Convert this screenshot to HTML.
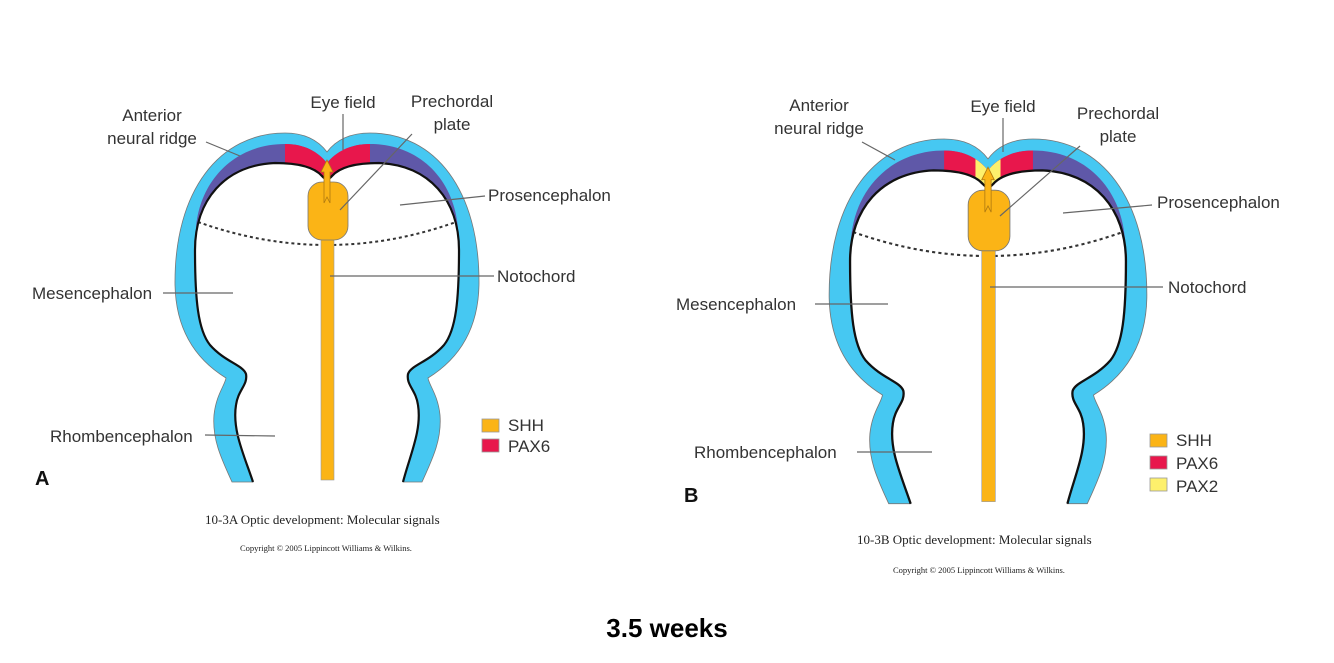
<!DOCTYPE html>
<html><head><meta charset="utf-8"><style>
html,body{margin:0;padding:0;background:#fff;}
svg{display:block;}
text{font-family:"Liberation Sans",sans-serif;fill:#333;}
.lb{font-size:17px;}
.ln{stroke:#666;stroke-width:1.2;fill:none;}
.cap{font-family:"Liberation Serif",serif;fill:#222;}
</style></head><body>
<svg width="1334" height="663" viewBox="0 0 1334 663" xmlns="http://www.w3.org/2000/svg">
<defs>
<path id="band" d="M196,228 C200,180 235,144 285,144 C305,144 318,152 327,163 C336,152 350,144 370,144 C420,144 454,180 458,228 L459,250 C459,200 429,165 379,163 C354,163 339,168 332,176 Q327,182 322,176 C315,168 300,163 275,163 C225,165 195,200 195,250 Z"/>
<g id="dia">
  <path d="M232,482 C222,460 212,440 214,415 C216,395 225,385 226,378 C200,362 176,335 175,285 C174,190 220,133 285,133 C305,133 318,140 327,152 C336,140 350,133 370,133 C435,133 480,190 479,285 C478,335 454,362 428,378 C429,385 438,395 440,415 C442,440 432,460 422,482 L403,482 C410,455 422,430 418,405 C416,390 406,385 408,374 C411,365 429,362 444,345 C456,330 459,300 459,250 C459,200 429,165 379,163 C354,163 339,168 332,176 Q327,182 322,176 C315,168 300,163 275,163 C225,165 195,200 195,250 C195,300 198,330 210,345 C225,362 243,365 246,374 C248,385 238,390 236,405 C232,430 244,455 253,482 Z" fill="#46c8f2" stroke="#777" stroke-width="0.8"/>
  <use href="#band" fill="#5f58a8"/>
  <path d="M198,222 Q327,268 456,222" fill="none" stroke="#333" stroke-width="2" stroke-dasharray="3,3"/>
  <rect x="321" y="236" width="13" height="244" fill="#fbb416" stroke="#999" stroke-width="0.6"/>
  <rect x="308" y="182" width="40" height="58" rx="14" fill="#fbb416" stroke="#777" stroke-width="0.8"/>
</g>
<g id="edge">
  <path d="M253,482 C244,455 232,430 236,405 C238,390 248,385 246,374 C243,365 225,362 210,345 C198,330 195,300 195,250 C195,200 225,165 275,163 C300,163 315,168 322,176 Q327,182 332,176 C339,168 354,163 379,163 C429,165 459,200 459,250 C459,300 456,330 444,345 C429,362 411,365 408,374 C406,385 416,390 418,405 C422,430 410,455 403,482" fill="none" stroke="#111" stroke-width="2.2"/>
  <path d="M327,160 L333,172 L330,172 L330,203 L327,197 L324,203 L324,172 L321,172 Z" fill="#fbb416" stroke="#b07a10" stroke-width="0.8"/>
</g>
<clipPath id="redA"><rect x="285" y="120" width="85" height="70"/></clipPath>
<clipPath id="yel"><rect x="315" y="120" width="24" height="70"/></clipPath>
</defs>

<use href="#dia"/>
<use href="#band" fill="#e8174c" clip-path="url(#redA)"/>
<use href="#edge"/>

<g transform="translate(988,139) scale(1.045) translate(-327,-133)">
  <use href="#dia"/>
  <use href="#band" fill="#e8174c" clip-path="url(#redA)"/>
  <use href="#band" fill="#fdf06c" clip-path="url(#yel)"/>
  <use href="#edge"/>
</g>

<text class="lb" x="152" y="121" text-anchor="middle">Anterior</text>
<text class="lb" x="152" y="144" text-anchor="middle">neural ridge</text>
<path class="ln" d="M206,142 L240,156"/>
<text class="lb" x="343" y="108" text-anchor="middle">Eye field</text>
<path class="ln" d="M343,114 L343,150"/>
<text class="lb" x="452" y="107" text-anchor="middle">Prechordal</text>
<text class="lb" x="452" y="130" text-anchor="middle">plate</text>
<path class="ln" d="M412,134 L340,210"/>
<text class="lb" x="488" y="201">Prosencephalon</text>
<path class="ln" d="M485,196 L400,205"/>
<text class="lb" x="497" y="282">Notochord</text>
<path class="ln" d="M494,276 L330,276"/>
<text class="lb" x="32" y="299">Mesencephalon</text>
<path class="ln" d="M163,293 L233,293"/>
<text class="lb" x="50" y="442">Rhombencephalon</text>
<path class="ln" d="M205,435 L275,436"/>
<text x="35" y="485" style="font-size:20px;font-weight:bold;fill:#111">A</text>
<rect x="482" y="419" width="17" height="13" fill="#fbb416" stroke="#999" stroke-width="0.8"/>
<text class="lb" x="508" y="431">SHH</text>
<rect x="482" y="439" width="17" height="13" fill="#e8174c" stroke="#999" stroke-width="0.8"/>
<text class="lb" x="508" y="452">PAX6</text>
<text class="cap" x="205" y="524" style="font-size:13px">10-3A  Optic development: Molecular signals</text>
<text class="cap" x="240" y="551" style="font-size:8.5px">Copyright © 2005 Lippincott Williams &amp; Wilkins.</text>

<text class="lb" x="819" y="111" text-anchor="middle">Anterior</text>
<text class="lb" x="819" y="134" text-anchor="middle">neural ridge</text>
<path class="ln" d="M862,142 L895,160"/>
<text class="lb" x="1003" y="112" text-anchor="middle">Eye field</text>
<path class="ln" d="M1003,118 L1003,152"/>
<text class="lb" x="1118" y="119" text-anchor="middle">Prechordal</text>
<text class="lb" x="1118" y="142" text-anchor="middle">plate</text>
<path class="ln" d="M1080,146 L1000,216"/>
<text class="lb" x="1157" y="208">Prosencephalon</text>
<path class="ln" d="M1152,205 L1063,213"/>
<text class="lb" x="1168" y="293">Notochord</text>
<path class="ln" d="M1163,287 L990,287"/>
<text class="lb" x="676" y="310">Mesencephalon</text>
<path class="ln" d="M815,304 L888,304"/>
<text class="lb" x="694" y="458">Rhombencephalon</text>
<path class="ln" d="M857,452 L932,452"/>
<text x="684" y="502" style="font-size:20px;font-weight:bold;fill:#111">B</text>
<rect x="1150" y="434" width="17" height="13" fill="#fbb416" stroke="#999" stroke-width="0.8"/>
<text class="lb" x="1176" y="446">SHH</text>
<rect x="1150" y="456" width="17" height="13" fill="#e8174c" stroke="#999" stroke-width="0.8"/>
<text class="lb" x="1176" y="469">PAX6</text>
<rect x="1150" y="478" width="17" height="13" fill="#fdf06c" stroke="#999" stroke-width="0.8"/>
<text class="lb" x="1176" y="492">PAX2</text>
<text class="cap" x="857" y="544" style="font-size:13px">10-3B  Optic development: Molecular signals</text>
<text class="cap" x="893" y="573" style="font-size:8.5px">Copyright © 2005 Lippincott Williams &amp; Wilkins.</text>

<text x="667" y="637" text-anchor="middle" style="font-size:26px;font-weight:bold;fill:#000">3.5 weeks</text>
</svg>
</body></html>
